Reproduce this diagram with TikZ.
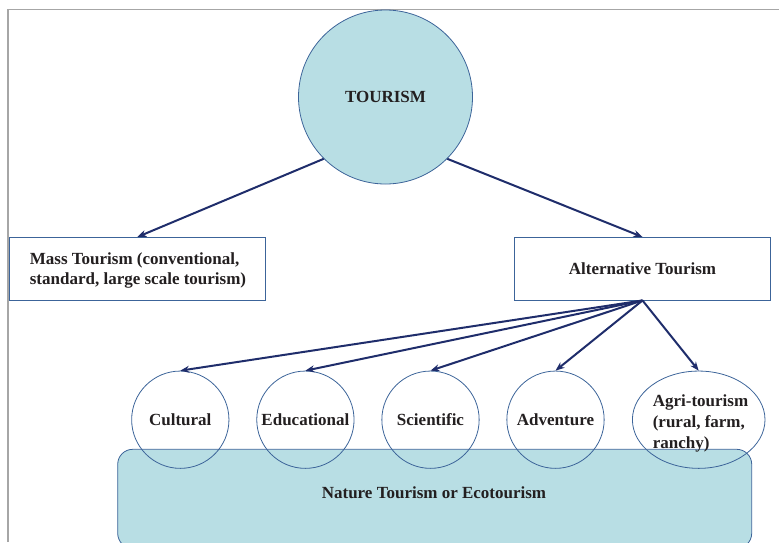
\documentclass[tikz,border=0pt]{standalone}
\usepackage{fontspec}
\setmainfont{Liberation Serif}
\usetikzlibrary{shapes.geometric,arrows.meta}
\definecolor{tealfill}{HTML}{B8DEE4}
\definecolor{edgeblue}{HTML}{3C6499}
\definecolor{navy}{HTML}{1F2D6B}
\definecolor{ink}{HTML}{231F20}
\definecolor{framegray}{HTML}{A6A6A6}
\tikzset{
  lbl/.style={font=\fontsize{17}{20.5}\selectfont\bfseries, text=ink, inner sep=0pt},
  bigcircle/.style={circle, draw=edgeblue, line width=0.8pt, fill=tealfill, minimum size=174pt, inner sep=0pt, lbl},
  topicbox/.style={rectangle, draw=edgeblue, line width=0.8pt, fill=white, minimum width=256.5pt, minimum height=62.7pt, inner sep=0pt},
  kind/.style={circle, draw=edgeblue, line width=0.8pt, minimum size=97.3pt, inner sep=0pt, lbl},
  kindoval/.style={ellipse, draw=edgeblue, line width=0.8pt, minimum width=132.6pt, minimum height=97.3pt, inner sep=0pt},
  natbox/.style={rectangle, rounded corners=15pt, draw=edgeblue, line width=0.8pt, fill=tealfill, minimum width=634pt, minimum height=99pt, inner sep=0pt},
  link/.style={draw=navy, line width=2pt, -{Stealth[length=9pt,width=7pt]}},
  frameline/.style={draw=framegray, line width=1.5pt}
}
\begin{document}
\begin{tikzpicture}[x=1pt,y=-1pt]
\useasboundingbox (0,0) rectangle (779,542);
\clip (0,0) rectangle (779,542);

% page frame
\draw[frameline] (8,542) -- (8,9.5) -- (779,9.5);

% top level
\node[bigcircle] (tour) at (385.5,97) {TOURISM};
\node[topicbox] (mass) at (137.4,268.7) {};
\node[lbl, align=left] (masslbl) at (138,270.5) {Mass Tourism (conventional,\\standard, large scale tourism)};
\node[topicbox] (alt) at (642.5,268.7) {};
\node[lbl] (altlbl) at (642.5,269) {Alternative Tourism};

\draw[link] (tour.225) -- (mass.north);
\draw[link] (tour.-45) -- (alt.north);

% nature / ecotourism band
\node[natbox] (nature) at (434.7,498.8) {};
\node[lbl] (natlbl) at (434,493) {Nature Tourism or Ecotourism};

% forms of alternative tourism
\node[kind] (cult) at (180.3,419.7) {Cultural};
\node[kind] (edu) at (305.4,419.7) {Educational};
\node[kind] (sci) at (430.5,419.7) {Scientific};
\node[kind] (adv) at (555.5,419.7) {Adventure};
\node[kindoval] (agri) at (698.7,419.7) {};
\node[lbl, align=left, font=\fontsize{17}{21}\selectfont\bfseries] (agrilbl) at (700.5,423.5) {Agri-tourism\\(rural, farm,\\ranchy)};

\foreach \t in {cult,edu,sci,adv,agri}
  \draw[link] (alt.south) -- (\t.north);
\end{tikzpicture}
\end{document}
